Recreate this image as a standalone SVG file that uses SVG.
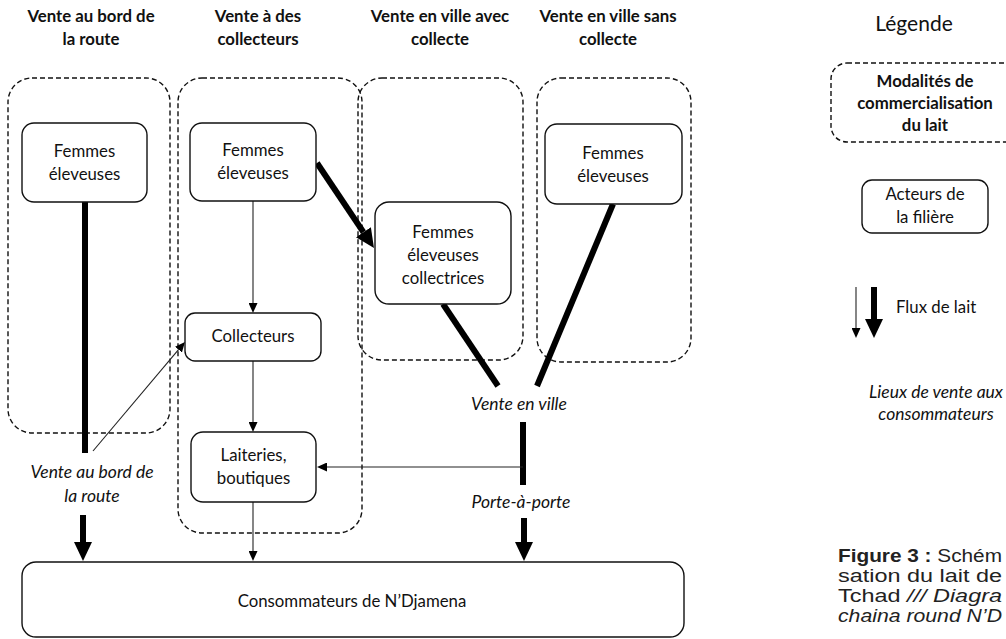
<svg xmlns="http://www.w3.org/2000/svg" width="1006" height="639" viewBox="0 0 1006 639">
<style>
text{font-family:Lato,"Liberation Sans",sans-serif;fill:#111;text-anchor:middle}
.title{font-weight:bold;font-size:16.8px}
.lbl{font-size:16.8px}
.it{font-style:italic;font-size:17.5px}
.zone{fill:none;stroke:#111;stroke-width:1.4;stroke-dasharray:5 3}
.node{fill:#fff;stroke:#111;stroke-width:1.4}
.thin{stroke:#222;stroke-width:1.1;fill:none}
.thick{stroke:#000;stroke-width:6;fill:none}
.cap{font-family:"Liberation Sans",Arial,sans-serif;font-size:17.5px;text-anchor:start;fill:#222}
</style>
<defs>
<marker id="ah" markerUnits="userSpaceOnUse" markerWidth="10" markerHeight="9" refX="0" refY="4.5" orient="auto"><path d="M0,0 L10,4.5 L0,9 z" fill="#000"/></marker>
<marker id="AH" markerUnits="userSpaceOnUse" markerWidth="19" markerHeight="18" refX="0" refY="9" orient="auto"><path d="M0,0 L19,9 L0,18 z" fill="#000"/></marker>
</defs>
<rect width="1006" height="639" fill="#fff"/>

<g id="titles">
<text class="title" x="91" y="22">Vente au bord de</text>
<text class="title" x="91" y="45">la route</text>
<text class="title" x="258" y="22">Vente à des</text>
<text class="title" x="258" y="45">collecteurs</text>
<text class="title" x="440" y="22">Vente en ville avec</text>
<text class="title" x="440" y="45">collecte</text>
<text class="title" x="608" y="22">Vente en ville sans</text>
<text class="title" x="608" y="45">collecte</text>
</g>

<g id="zones">
<rect id="zone-route" class="zone" x="8" y="78" width="162" height="355" rx="24"/>
<rect id="zone-collecteurs" class="zone" x="178" y="78" width="184" height="455" rx="24"/>
<rect id="zone-ville-avec" class="zone" x="358" y="78" width="165" height="282" rx="24"/>
<rect id="zone-ville-sans" class="zone" x="537" y="78" width="154" height="284" rx="24"/>
</g>

<g id="connectors">
<line class="thick" x1="85" y1="202" x2="85" y2="453"/>
<line class="thin" x1="93" y1="451" x2="178.5" y2="349.6" marker-end="url(#ah)"/>
<line class="thick" x1="83" y1="515" x2="83" y2="542" marker-end="url(#AH)"/>
<line class="thin" x1="253" y1="201" x2="253" y2="303" marker-end="url(#ah)"/>
<line class="thin" x1="253" y1="361" x2="253" y2="422" marker-end="url(#ah)"/>
<line class="thin" x1="253" y1="502" x2="253" y2="551" marker-end="url(#ah)"/>
<line class="thick" x1="317" y1="163" x2="363.4" y2="232.2" marker-end="url(#AH)"/>
<line class="thick" x1="443" y1="304" x2="498" y2="386"/>
<line class="thick" x1="613" y1="204" x2="537" y2="386"/>
<line class="thick" x1="523" y1="422" x2="523" y2="485"/>
<line class="thin" x1="523" y1="467" x2="327" y2="467" marker-end="url(#ah)"/>
<line class="thick" x1="524" y1="518" x2="524" y2="542" marker-end="url(#AH)"/>
</g>

<g id="n-femmes-route">
<rect class="node" x="22" y="123" width="125" height="79" rx="12"/>
<text class="lbl" x="84.5" y="157">Femmes</text>
<text class="lbl" x="84.5" y="180">éleveuses</text>
</g>
<g id="n-femmes-collecteurs">
<rect class="node" x="190" y="123" width="126" height="78" rx="12"/>
<text class="lbl" x="253" y="156">Femmes</text>
<text class="lbl" x="253" y="179">éleveuses</text>
</g>
<g id="n-collectrices">
<rect class="node" x="375" y="202" width="136" height="102" rx="14"/>
<text class="lbl" x="443" y="238">Femmes</text>
<text class="lbl" x="443" y="261">éleveuses</text>
<text class="lbl" x="443" y="284">collectrices</text>
</g>
<g id="n-femmes-sans">
<rect class="node" x="545" y="124" width="137" height="80" rx="12"/>
<text class="lbl" x="613" y="159">Femmes</text>
<text class="lbl" x="613" y="182">éleveuses</text>
</g>
<g id="n-collecteurs">
<rect class="node" x="185" y="313" width="136" height="48" rx="10"/>
<text class="lbl" x="253" y="342">Collecteurs</text>
</g>
<g id="n-laiteries">
<rect class="node" x="191" y="432" width="125" height="70" rx="12"/>
<text class="lbl" x="253.5" y="461">Laiteries,</text>
<text class="lbl" x="253.5" y="484">boutiques</text>
</g>
<g id="n-consommateurs">
<rect class="node" x="22" y="562" width="662" height="75" rx="14"/>
<text class="lbl" x="352" y="607">Consommateurs de N’Djamena</text>
</g>

<g id="places">
<text class="it" x="92" y="478">Vente au bord de</text>
<text class="it" x="92" y="502">la route</text>
<text class="it" x="519" y="410">Vente en ville</text>
<text class="it" x="521" y="508">Porte-à-porte</text>
</g>

<g id="legend">
<text class="lbl" x="914" y="31" style="font-size:21px">Légende</text>
<rect class="zone" x="831" y="63" width="200" height="79" rx="16"/>
<text class="title" x="925" y="87">Modalités de</text>
<text class="title" x="925" y="109">commercialisation</text>
<text class="title" x="925" y="131">du lait</text>
<rect class="node" x="862" y="180" width="126" height="53" rx="10"/>
<text class="lbl" x="925" y="200">Acteurs de</text>
<text class="lbl" x="925" y="223">la filière</text>
<line class="thin" x1="856" y1="287" x2="856" y2="328" marker-end="url(#ah)"/>
<line class="thick" x1="874" y1="287" x2="874" y2="319" marker-end="url(#AH)"/>
<text class="lbl" x="896" y="313" style="text-anchor:start">Flux de lait</text>
<text class="it" x="936" y="398">Lieux de vente aux</text>
<text class="it" x="936" y="420">consommateurs</text>
</g>

<g id="caption">
<text class="cap" x="838" y="562" textLength="164" lengthAdjust="spacingAndGlyphs"><tspan font-weight="bold">Figure 3 :</tspan> Schém</text>
<text class="cap" x="838" y="582" textLength="164" lengthAdjust="spacingAndGlyphs">sation du lait de</text>
<text class="cap" x="838" y="602" textLength="164" lengthAdjust="spacingAndGlyphs">Tchad <tspan font-style="italic">/// Diagra</tspan></text>
<text class="cap" x="838" y="622" font-style="italic" textLength="164" lengthAdjust="spacingAndGlyphs">chaina round N’D</text>
</g>
</svg>
